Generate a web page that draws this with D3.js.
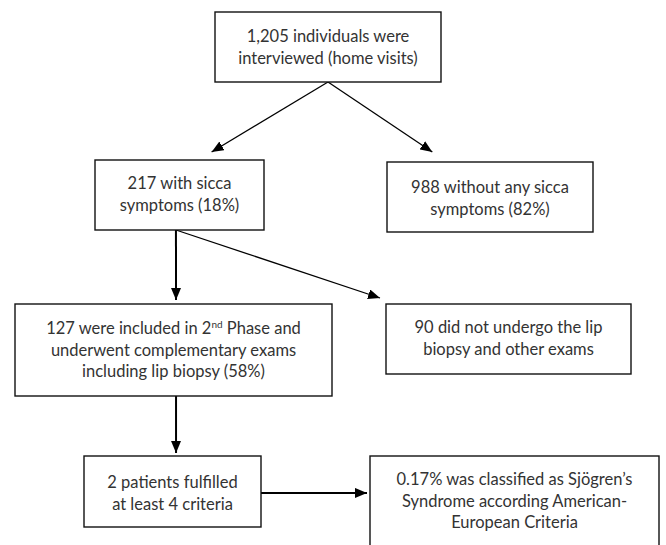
<!DOCTYPE html>
<html>
<head>
<meta charset="utf-8">
<script src="https://d3js.org/d3.v7.min.js"></script>
<style>
  html, body { margin: 0; padding: 0; background: #fff; }
  svg { display: block; }
</style>
</head>
<body>
<svg id="chart"></svg>
<script>
// ── Flussdiagramm-Daten ───────────────────────────────
const nodeIds = ['all', 'sicca', 'noSicca', 'phase2', 'noBiopsy', 'criteria', 'sjogren'];

const nodeLines = [
  ['1,205 individuals were', 'interviewed (home visits)'],
  ['217 with sicca', 'symptoms (18%)'],
  ['988 without any sicca', 'symptoms (82%)'],
  ['127 were included in 2|nd| Phase and', 'underwent complementary exams', 'including lip biopsy (58%)'],
  ['90 did not undergo the lip', 'biopsy and other exams'],
  ['2 patients fulfilled', 'at least 4 criteria'],
  ['0.17% was classified as Sjögren’s', 'Syndrome according American-', 'European Criteria']
];

const edgeFrom = ['all', 'all', 'sicca', 'sicca', 'phase2', 'criteria'];
const edgeTo   = ['sicca', 'noSicca', 'phase2', 'noBiopsy', 'criteria', 'sjogren'];

// ── Layout (Pixel) ────────────────────────────────────
const W = 666, H = 545;
const layout = {
  all:      { x: 215, y: 12,  w: 226, h: 70,  ty: 42 },
  sicca:    { x: 95,  y: 160, w: 169, h: 70,  ty: 189 },
  noSicca:  { x: 387, y: 162, w: 206, h: 70,  ty: 193 },
  phase2:   { x: 15,  y: 304, w: 317, h: 92,  ty: 334 },
  noBiopsy: { x: 386, y: 304, w: 245, h: 70,  ty: 333 },
  criteria: { x: 84,  y: 456, w: 177, h: 71,  ty: 488 },
  sjogren:  { x: 370, y: 456, w: 289, h: 110, ty: 485 }
};
const lineH = 21.5;

// Ankerpunkte der Pfeile: Quelle [fx, fy], Ziel [fx, fy] + Abstand [dx, dy]
const edgeAnchor = [
  { s: [0.5, 1],    t: [0.69, 0],  off: [0, -8] },
  { s: [0.5, 1],    t: [0.22, 0],  off: [0, -10] },
  { s: [0.479, 1],  t: [0.508, 0], off: [0, -4] },
  { s: [0.479, 1],  t: [0, 0],     off: [-6, -6] },
  { s: [0.508, 1],  t: [0.52, 0],  off: [0, -3] },
  { s: [1, 0.52],   t: [0, 0.336], off: [-3, 0] }
];

const svg = d3.select('#chart').attr('width', W).attr('height', H);

svg.append('defs').append('marker')
  .attr('id', 'arrow')
  .attr('viewBox', '0 -5 12 10')
  .attr('refX', 12).attr('refY', 0)
  .attr('markerWidth', 12).attr('markerHeight', 10)
  .attr('markerUnits', 'userSpaceOnUse')
  .attr('orient', 'auto')
  .append('path')
  .attr('d', 'M0,-5L12,0L0,5Z')
  .attr('fill', '#000');

const nodes = nodeIds.map((id, i) => ({ id, lines: nodeLines[i], ...layout[id] }));
const byId = new Map(nodes.map(n => [n.id, n]));

const edges = edgeFrom.map((f, i) => {
  const a = byId.get(f), b = byId.get(edgeTo[i]), an = edgeAnchor[i];
  return {
    x1: a.x + a.w * an.s[0], y1: a.y + a.h * an.s[1],
    x2: b.x + b.w * an.t[0] + an.off[0], y2: b.y + b.h * an.t[1] + an.off[1]
  };
});

// Pfeile
svg.append('g').selectAll('line')
  .data(edges).join('line')
    .attr('x1', d => d.x1).attr('y1', d => d.y1)
    .attr('x2', d => d.x2).attr('y2', d => d.y2)
    .attr('stroke', '#000')
    .attr('stroke-width', d => (Math.abs(d.x1 - d.x2) < 2 || Math.abs(d.y1 - d.y2) < 2) ? 2 : 1.3)
    .attr('marker-end', 'url(#arrow)');

// Kästen
const box = svg.append('g').selectAll('g')
  .data(nodes).join('g');

box.append('rect')
  .attr('x', d => d.x).attr('y', d => d.y)
  .attr('width', d => d.w).attr('height', d => d.h)
  .attr('fill', '#fff')
  .attr('stroke', '#111')
  .attr('stroke-width', 1.4);

const txt = box.append('text')
  .attr('text-anchor', 'middle')
  .attr('font-family', 'Lato, "Open Sans", sans-serif')
  .attr('font-size', 16.5)
  .attr('fill', '#333');

txt.each(function(d) {
  const t = d3.select(this);
  d.lines.forEach((line, i) => {
    const parts = line.split('|');
    const ts = t.append('tspan')
      .attr('x', d.x + d.w / 2)
      .attr('y', d.ty + i * lineH);
    if (parts.length === 1) { ts.text(line); return; }
    ts.text(parts[0]);
    t.append('tspan').attr('dy', -6).attr('font-size', 10).text(parts[1]);
    t.append('tspan').attr('dy', 6).text(parts[2]);
  });
});
</script>
</body>
</html>
